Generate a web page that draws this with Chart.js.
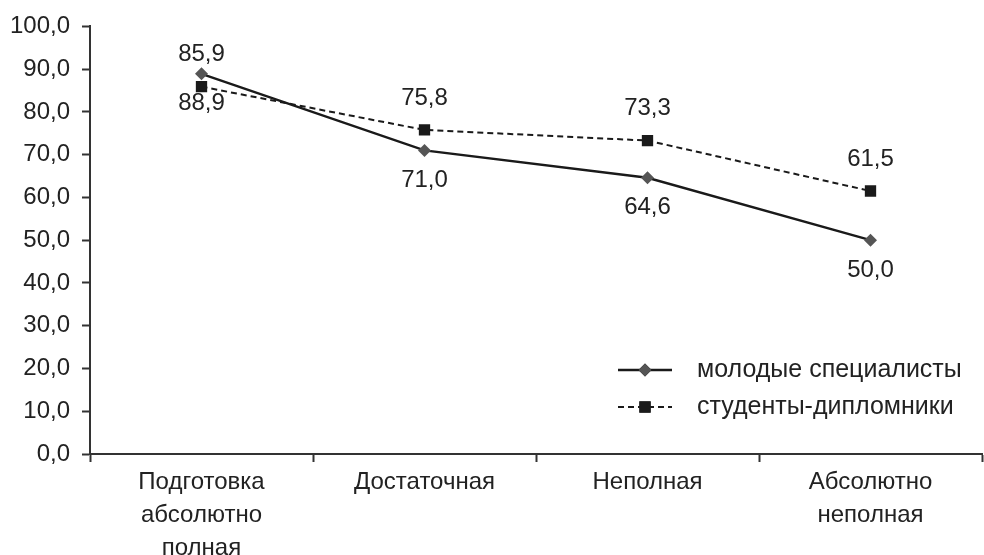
<!DOCTYPE html>
<html>
<head>
<meta charset="utf-8">
<script src="https://cdn.jsdelivr.net/npm/chart.js@4/dist/chart.umd.min.js"></script>
<style>
  html, body { margin: 0; padding: 0; background: #fff; overflow: hidden; }
  #wrap { position: relative; width: 990px; height: 555px; }
</style>
</head>
<body>
<div id="wrap"><canvas id="c"></canvas></div>
<script>
// Categories (multi-line axis labels)
const categories = [
  ['Подготовка', 'абсолютно', 'полная'],
  ['Достаточная'],
  ['Неполная'],
  ['Абсолютно', 'неполная']
];
const seriesNames = ['молодые специалисты', 'студенты-дипломники'];
const youngSpecialists = [88.9, 71.0, 64.6, 50.0];
const graduateStudents = [85.9, 75.8, 73.3, 61.5];
const yTicks = [0, 10, 20, 30, 40, 50, 60, 70, 80, 90, 100];

const FONT = 'Liberation Sans, Arial, sans-serif';
const TEXT = '#222';
const fmt = v => v.toFixed(1).replace('.', ',');

// Value labels: first series below its marker, second series above
const valueLabels = {
  id: 'valueLabels',
  afterDatasetsDraw(chart) {
    const ctx = chart.ctx;
    ctx.save();
    ctx.font = '24px ' + FONT;
    ctx.fillStyle = TEXT;
    ctx.textAlign = 'center';
    ctx.textBaseline = 'middle';
    chart.data.datasets.forEach((ds, di) => {
      const meta = chart.getDatasetMeta(di);
      const off = di === 0 ? 30 : -32;
      meta.data.forEach((pt, i) => {
        ctx.fillText(fmt(ds.data[i]), pt.x, pt.y + off);
      });
    });
    ctx.restore();
  }
};

// Legend drawn inside the plot area, lower right
const innerLegend = {
  id: 'innerLegend',
  afterDraw(chart) {
    const ctx = chart.ctx;
    const x0 = 618, x1 = 672, tx = 697;
    const rows = [370, 407];
    ctx.save();
    chart.data.datasets.forEach((ds, di) => {
      const y = rows[di];
      ctx.beginPath();
      ctx.strokeStyle = ds.borderColor;
      ctx.lineWidth = ds.borderWidth;
      ctx.setLineDash(ds.borderDash || []);
      ctx.moveTo(x0, y);
      ctx.lineTo(x1, y);
      ctx.stroke();
      ctx.setLineDash([]);
      Chart.helpers.drawPoint(ctx, {
        pointStyle: ds.pointStyle,
        radius: ds.pointRadius,
        borderWidth: 0
      }, (x0 + x1) / 2, y);
      ctx.fillStyle = ds.pointBackgroundColor;
      ctx.fill();
      ctx.font = '25px ' + FONT;
      ctx.fillStyle = TEXT;
      ctx.textAlign = 'left';
      ctx.textBaseline = 'middle';
      ctx.fillText(ds.label, tx, y);
    });
    ctx.restore();
  }
};

new Chart(document.getElementById('c'), {
  type: 'line',
  data: {
    labels: categories,
    datasets: [
      {
        label: seriesNames[0],
        data: youngSpecialists,
        borderColor: '#1a1a1a',
        borderWidth: 2.4,
        pointStyle: 'rectRot',
        pointRadius: 6.5,
        pointBackgroundColor: '#555555',
        pointBorderWidth: 0,
        tension: 0
      },
      {
        label: seriesNames[1],
        data: graduateStudents,
        borderColor: '#1a1a1a',
        borderWidth: 2,
        borderDash: [6, 4],
        pointStyle: 'rect',
        pointRadius: 8,
        pointBackgroundColor: '#1a1a1a',
        pointBorderWidth: 0,
        tension: 0
      }
    ]
  },
  options: {
    responsive: true,
    maintainAspectRatio: false,
    animation: false,
    layout: { padding: { top: 9, right: 0, left: 0, bottom: 0 } },
    plugins: {
      legend: { display: false },
      tooltip: { enabled: false }
    },
    scales: {
      x: {
        type: 'category',
        offset: true,
        grid: {
          display: true,
          offset: true,
          drawOnChartArea: false,
          drawTicks: true,
          tickLength: 8,
          tickColor: '#333',
          tickWidth: 2
        },
        border: { display: true, color: '#333', width: 2 },
        ticks: {
          color: TEXT,
          font: { family: FONT, size: 24, lineHeight: 1.375 },
          padding: 4,
          maxRotation: 0,
          autoSkip: false
        },
        afterFit(scale) { scale.height = 101; }
      },
      y: {
        min: 0,
        max: 100,
        afterBuildTicks(scale) { scale.ticks = yTicks.map(v => ({ value: v })); },
        grid: {
          display: true,
          drawOnChartArea: false,
          drawTicks: true,
          tickLength: 8,
          tickColor: '#333',
          tickWidth: 2
        },
        border: { display: true, color: '#333', width: 2 },
        ticks: {
          color: TEXT,
          font: { family: FONT, size: 24 },
          padding: 12,
          callback: v => fmt(v)
        },
        afterFit(scale) { scale.width = 90; }
      }
    }
  },
  plugins: [valueLabels, innerLegend]
});
</script>
</body>
</html>
